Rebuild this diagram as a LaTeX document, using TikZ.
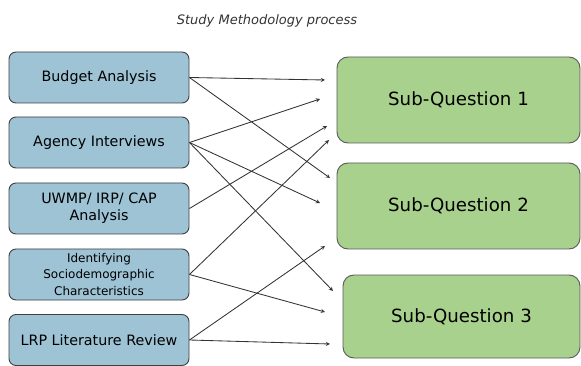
\documentclass[tikz,border=0pt]{standalone}
\usepackage{fontspec}
\setmainfont{DejaVu Sans}
\definecolor{methblue}{HTML}{9DC3D5}
\definecolor{qgreen}{HTML}{A9D18E}

\begin{document}
\begin{tikzpicture}[>=stealth,x=1pt,y=-1pt,
    src/.style={draw=black!75,fill=methblue,rounded corners=7pt,minimum width=180pt,
      minimum height=51pt,inner sep=0pt,line width=0.9pt,align=center,
      font=\fontsize{14.3}{17}\selectfont},
    sq/.style={draw=black!65,fill=qgreen,rounded corners=11pt,minimum width=243pt,
      minimum height=86pt,inner sep=0pt,line width=0.9pt,
      font=\fontsize{18.2}{22}\selectfont},
    link/.style={->,draw=black!80,line width=0.85pt}]
          \useasboundingbox (0,0) rectangle (581,366);

          \node[font=\itshape\fontsize{13}{15}\selectfont,text=black!80] (title) at (267,21) {Study Methodology process};

          \node[src] (budget) at (99,77.5) {Budget Analysis};
          \node[src] (agency) at (99,142.5) {Agency Interviews};
          \node[src] (uwmp) at (99,208.5) {UWMP/ IRP/ CAP\\Analysis};
          \node[src,font=\fontsize{12}{16.5}\selectfont] (socio) at (99,274.5) {Identifying\\Sociodemographic\\Characteristics};
          \node[src] (lrp) at (99,340) {LRP Literature Review};

          \node[sq] (sq1) at (458.5,100) {Sub-Question 1};
          \node[sq] (sq2) at (458.5,206) {Sub-Question 2};
          \node[sq,minimum width=237pt,minimum height=83pt] (sq3) at (461.5,316.5) {Sub-Question 3};

          \coordinate (budget-1) at (325,80);
          \coordinate (budget-2) at (330,178);
          \coordinate (agency-1) at (320,99);
          \coordinate (agency-2) at (320,203);
          \coordinate (agency-3) at (333,291);
          \coordinate (uwmp-1) at (327,126);
          \coordinate (socio-1) at (329,140);
          \coordinate (socio-3) at (325,312);
          \coordinate (lrp-2) at (325,246);
          \coordinate (lrp-3) at (330,344);

          \draw[link] (budget.east) -- (budget-1);
          \draw[link] (budget.east) -- (budget-2);
          \draw[link] (agency.east) -- (agency-1);
          \draw[link] (agency.east) -- (agency-2);
          \draw[link] (agency.east) -- (agency-3);
          \draw[link] (uwmp.east) -- (uwmp-1);
          \draw[link] (socio.east) -- (socio-1);
          \draw[link] (socio.east) -- (socio-3);
          \draw[link] (lrp.east) -- (lrp-2);
          \draw[link] (lrp.east) -- (lrp-3);
        \end{tikzpicture}
\end{document}
